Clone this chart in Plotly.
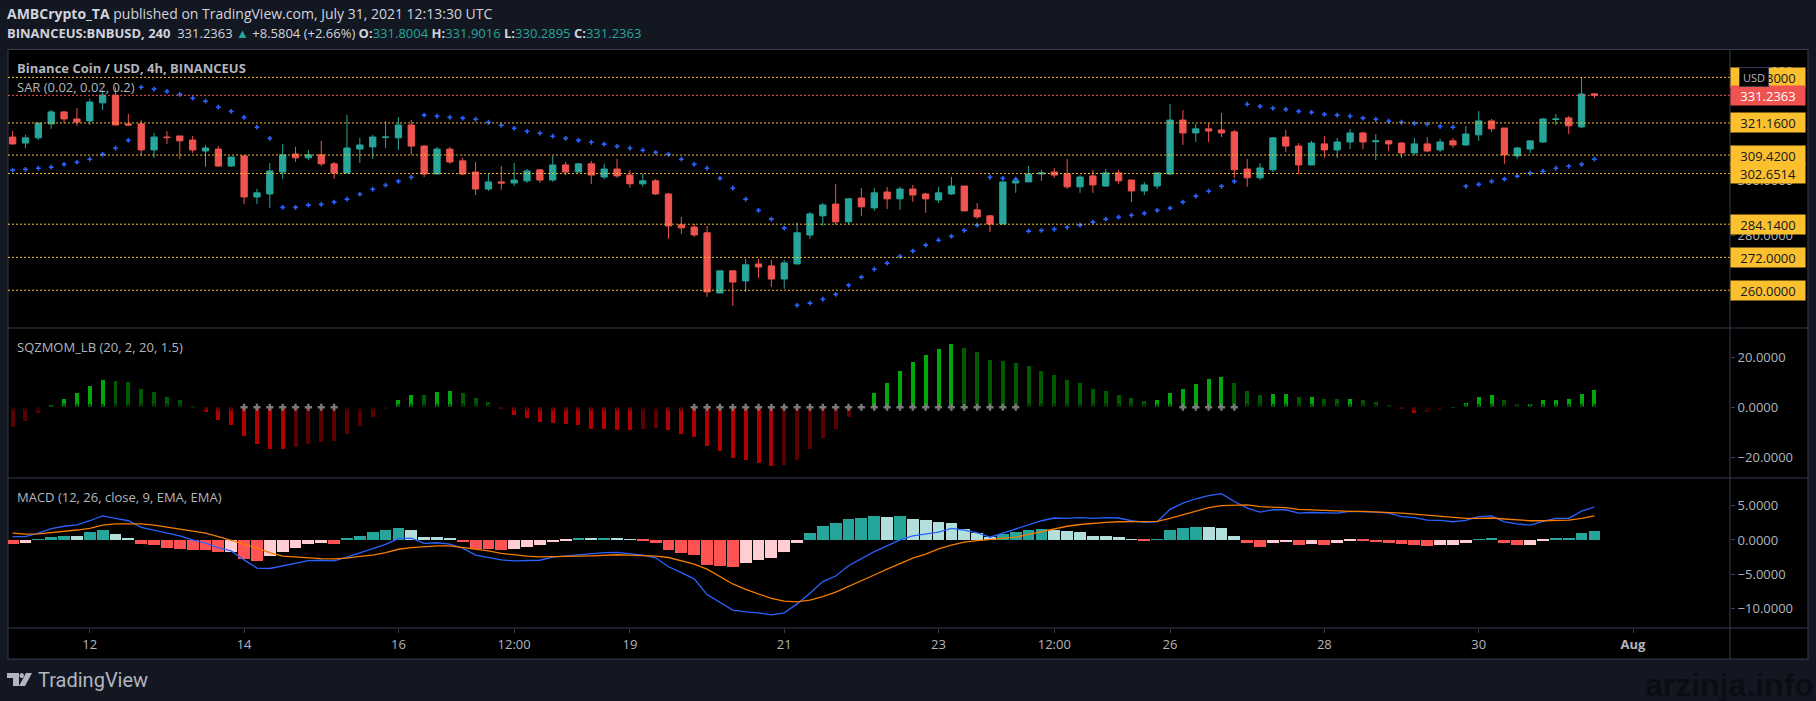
import pandas as pd
import plotly.graph_objects as go
from plotly.subplots import make_subplots

W, H = 1816, 701

dates = pd.date_range("2021-07-11 00:00", periods=124, freq="4h")

opens = [316.0, 313.8, 315.7, 320.8, 325.2, 322.6, 321.9, 328.5, 331.3, 320.8, 320.8, 311.3, 316.0, 316.4, 314.9, 310.9,
         311.6, 305.4, 309.1, 294.1, 295.2, 303.2, 309.8, 308.4, 309.5, 306.2, 302.9, 311.6, 312.4, 315.8, 315.7, 320.4,
         312.7, 302.5, 311.6, 307.3, 303.2, 297.0, 299.6, 299.2, 300.0, 304.0, 300.3, 305.8, 303.2, 306.2, 301.4, 304.3,
         302.1, 298.9, 300.0, 295.2, 283.9, 283.1, 281.0, 259.0, 267.1, 263.4, 269.6, 268.9, 264.1, 269.6, 280.2, 287.2,
         291.5, 285.0, 293.7, 290.1, 295.9, 293.4, 297.0, 295.2, 293.0, 295.2, 298.1, 289.4, 287.2, 284.2, 299.2, 299.6,
         302.5, 303.2, 302.5, 297.8, 301.8, 298.1, 302.9, 300.3, 296.3, 298.1, 302.5, 322.2, 317.5, 319.0, 318.6, 317.9,
         304.3, 301.1, 304.0, 316.0, 312.7, 305.8, 313.5, 311.3, 314.2, 317.5, 314.3, 314.6, 313.8, 310.2, 313.5, 311.3,
         314.6, 313.1, 316.8, 321.9, 319.3, 309.1, 311.6, 314.2, 322.4, 323.0, 319.7, 331.8004]
highs = [318.2, 316.8, 321.1, 325.9, 325.5, 326.6, 329.9, 333.2, 334.2, 324.4, 322.2, 317.5, 318.2, 316.4, 316.4, 313.1,
         312.7, 308.7, 309.1, 297.0, 306.5, 313.5, 312.4, 311.3, 314.6, 306.9, 324.1, 315.7, 316.8, 321.9, 323.3, 322.2,
         313.1, 312.4, 312.4, 308.4, 306.9, 302.9, 305.4, 306.5, 304.3, 304.3, 309.1, 306.9, 306.5, 307.3, 306.2, 308.0,
         304.0, 302.5, 300.7, 295.6, 286.8, 284.2, 283.5, 267.4, 267.4, 271.5, 271.5, 271.1, 271.1, 284.6, 288.6, 291.9,
         298.9, 293.7, 297.4, 297.4, 297.8, 297.8, 298.5, 295.6, 297.8, 301.4, 298.1, 291.9, 287.5, 299.6, 300.7, 305.4,
         304.0, 304.7, 308.0, 302.1, 304.0, 304.3, 304.0, 300.3, 299.6, 302.9, 328.1, 325.9, 320.8, 321.1, 324.8, 318.6,
         308.0, 306.5, 316.0, 318.6, 313.8, 314.6, 316.4, 315.7, 319.0, 317.9, 317.1, 314.9, 314.2, 315.7, 316.0, 315.3,
         315.7, 320.1, 325.5, 322.6, 319.3, 312.4, 314.6, 323.0, 324.4, 323.7, 337.6, 331.9016]
lows = [313.1, 312.0, 314.9, 319.0, 321.1, 320.1, 320.4, 325.9, 320.4, 320.1, 309.1, 308.4, 313.5, 308.0, 310.2, 305.1,
        305.1, 305.1, 291.5, 291.5, 290.1, 300.7, 306.9, 307.6, 305.4, 300.7, 302.9, 306.5, 308.0, 312.0, 311.3, 309.5,
        301.4, 302.5, 306.2, 302.1, 294.8, 296.3, 296.7, 298.1, 299.2, 299.2, 299.6, 302.1, 303.2, 298.9, 300.7, 301.1,
        297.4, 297.8, 294.8, 278.8, 280.6, 279.5, 257.6, 259.0, 254.3, 259.4, 264.5, 261.2, 260.5, 269.6, 278.8, 283.5,
        283.9, 284.2, 287.2, 289.0, 289.7, 289.4, 292.3, 288.3, 291.9, 294.8, 289.0, 286.1, 281.3, 284.2, 295.6, 299.6,
        300.0, 301.1, 297.0, 295.6, 295.6, 297.8, 298.9, 292.3, 294.8, 297.0, 302.1, 313.1, 314.2, 314.2, 316.0, 301.1,
        297.8, 300.3, 303.2, 310.5, 302.5, 305.8, 308.4, 308.4, 311.6, 311.6, 307.6, 310.9, 308.4, 309.5, 310.5, 310.5,
        312.0, 312.7, 314.6, 317.9, 306.2, 308.0, 310.2, 313.8, 320.4, 317.1, 319.3, 330.2895]
closes = [313.5, 315.7, 321.1, 325.2, 322.6, 321.5, 328.8, 331.4, 320.4, 320.4, 311.3, 316.0, 315.8, 314.6, 311.3, 312.0,
          305.4, 308.7, 294.1, 295.6, 303.6, 309.5, 308.4, 309.5, 306.2, 302.9, 312.0, 313.1, 316.0, 316.0, 320.4, 312.7,
          302.5, 311.6, 306.9, 302.5, 297.0, 299.6, 299.2, 300.3, 303.6, 300.3, 305.8, 303.2, 306.2, 302.1, 304.3, 301.8,
          298.9, 300.0, 295.2, 283.5, 282.8, 280.2, 259.4, 267.1, 263.0, 269.3, 268.5, 264.1, 270.0, 281.0, 287.9, 291.2,
          285.0, 293.4, 290.5, 295.6, 293.4, 297.0, 294.8, 293.4, 295.6, 298.1, 289.0, 286.8, 284.2, 299.6, 300.0, 302.5,
          302.9, 302.1, 297.8, 301.4, 298.5, 302.9, 300.0, 296.3, 298.5, 302.9, 322.2, 317.5, 319.0, 318.2, 317.5, 304.0,
          301.1, 304.7, 315.7, 312.7, 305.8, 313.8, 311.3, 314.2, 317.5, 314.2, 314.6, 313.5, 310.2, 313.5, 310.9, 314.2,
          313.1, 317.1, 321.9, 319.0, 309.5, 312.0, 314.6, 322.6, 322.6, 320.1, 331.7, 331.2363]

sar = [303.9, 304.2, 304.6, 305.0, 306.0, 306.8, 307.9, 309.7, 311.9, 314.8, 334.2, 333.5, 332.7, 331.6, 330.2, 329.1,
       326.9, 325.4, 323.2, 319.6, 315.5, 290.3, 290.3, 291.1, 291.4, 292.2, 293.3, 295.1, 296.9, 298.4, 299.8, 301.3,
       324.0, 323.6, 323.2, 322.9, 322.5, 321.4, 320.3, 319.2, 318.1, 317.4, 316.3, 315.5, 314.8, 314.1, 313.4, 312.6,
       311.9, 311.2, 310.4, 309.7, 307.9, 306.0, 304.6, 300.9, 297.3, 293.3, 289.2, 286.0, 282.7, 254.5, 255.3, 256.7,
       258.5, 261.8, 264.8, 267.7, 269.9, 272.4, 274.3, 276.5, 278.3, 279.7, 281.9, 283.8, 301.3, 300.9, 300.6, 281.6,
       281.9, 282.3, 283.0, 283.8, 284.9, 286.0, 286.7, 287.4, 288.1, 289.2, 290.0, 292.2, 294.4, 296.2, 298.0, 299.8,
       328.0, 327.2, 326.5, 326.1, 325.4, 325.0, 324.3, 324.0, 323.6, 322.9, 322.5, 321.8, 321.4, 321.0, 320.7, 319.9,
       319.6, 298.0, 298.7, 299.8, 300.6, 301.7, 302.8, 303.5, 304.6, 305.3, 306.0, 307.9]

# horizontal levels drawn by hand on the chart
level_prices = [337.8, 321.16, 309.42, 302.6514, 284.14, 272.0, 260.0]
level_labels = ["337.8000", "321.1600", "309.4200", "302.6514", "284.1400", "272.0000", "260.0000"]
last_price = 331.2363

sqz_prev_start = -9.0
sqz_mom = [-7.9, -5.5, -2.3, 0.9, 3.3, 5.7, 8.5, 10.9, 10.5, 10.1, 7.3, 6.1, 4.1, 2.9, 0.5, -1.9,
           -5.1, -7.1, -11.5, -14.7, -16.7, -16.8, -15.9, -14.7, -13.9, -13.5, -10.7, -7.5, -3.9, -0.5, 2.9, 4.9,
           4.85, 6.1, 6.5, 5.7, 3.7, 2.1, -0.4, -3.1, -4.3, -5.9, -6.3, -6.7, -7.1, -8.7, -8.75, -9.1,
           -9.15, -8.7, -8.3, -9.1, -10.7, -11.9, -15.5, -17.5, -20.3, -21.1, -22.3, -23.5, -23.1, -21.1, -16.7, -12.3,
           -8.7, -3.9, 0.2, 5.7, 9.7, 14.5, 18.1, 20.9, 23.3, 25.3, 23.7, 22.1, 18.9, 18.5, 17.7, 16.5,
           14.5, 12.9, 10.9, 9.7, 7.3, 6.5, 4.9, 3.7, 2.5, 2.9, 5.7, 7.3, 9.3, 11.3, 12.1, 9.7,
           6.5, 4.9, 5.3, 5.35, 4.1, 4.15, 3.3, 3.25, 3.35, 2.9, 2.1, 0.9, -0.8, -2.3, -1.9, -1.1,
           0.1, 1.7, 4.1, 4.9, 2.9, 1.3, 1.35, 2.9, 2.95, 3.3, 5.3, 6.9]
# bars where the squeeze is on, first and last bar of each run
squeeze_runs = [(18, 25), (53, 78), (91, 95)]

macd_hist = [-0.6, -0.5, 0.07, 0.5, 0.65, 0.62, 1.1, 1.4, 0.8, 0.36, -0.65, -0.8, -1.1, -1.25, -1.4, -1.5,
             -1.8, -1.78, -2.7, -3.0, -2.4, -1.7, -1.1, -0.65, -0.5, -0.52, 0.2, 0.65, 1.1, 1.4, 1.7, 1.4,
             0.5, 0.48, 0.2, -0.35, -1.25, -1.27, -1.4, -1.25, -0.95, -0.8, -0.35, -0.2, 0.2, 0.18, 0.35, 0.2,
             0.07, -0.2, -0.5, -1.4, -1.95, -2.25, -3.7, -3.85, -4.0, -3.4, -2.85, -2.55, -1.8, -0.5, 0.95, 2.1,
             2.4, 3.1, 3.15, 3.45, 3.4, 3.42, 3.1, 2.85, 2.55, 2.4, 1.65, 0.95, 0.5, 0.8, 1.1, 1.5,
             1.65, 1.5, 1.25, 1.1, 0.65, 0.63, 0.5, 0.07, -0.2, 0.07, 1.4, 1.8, 1.95, 1.93, 1.8, 0.65,
             -0.5, -0.95, -0.5, -0.35, -0.8, -0.65, -0.67, -0.5, -0.2, -0.22, -0.35, -0.37, -0.65, -0.8, -0.82, -0.8,
             -0.78, -0.5, 0.07, 0.2, -0.5, -0.8, -0.78, -0.2, 0.2, 0.22, 0.95, 1.25]
macd_line = [0.5, 0.5, 1.0, 1.65, 2.0, 2.2, 2.8, 3.5, 3.15, 2.8, 1.85, 1.4, 1.0, 0.6, 0.0, -0.45,
             -1.15, -1.6, -2.9, -4.1, -4.15, -3.75, -3.4, -3.0, -2.95, -3.05, -2.5, -1.9, -1.2, -0.65, 0.2, 0.25,
             -0.5, -0.4, -0.6, -1.2, -2.2, -2.55, -2.9, -3.05, -2.95, -2.95, -2.5, -2.35, -2.1, -2.05, -1.85, -1.8,
             -2.05, -2.2, -2.6, -3.9, -4.75, -5.65, -7.95, -9.1, -10.2, -10.45, -10.6, -10.9, -10.6, -9.3, -7.75, -6.05,
             -5.25, -3.75, -2.75, -1.7, -0.85, 0.0, 0.6, 0.85, 1.15, 1.7, 1.45, 1.05, 0.4, 1.0, 1.6, 2.2,
             2.8, 3.2, 3.15, 3.25, 3.15, 3.25, 3.2, 2.8, 2.55, 2.65, 4.45, 5.35, 6.0, 6.45, 6.75, 5.6,
             4.65, 4.05, 4.4, 4.4, 3.9, 4.0, 3.9, 3.9, 4.15, 4.15, 4.05, 3.9, 3.4, 3.25, 2.9, 2.85,
             2.65, 2.85, 3.4, 3.5, 2.65, 2.35, 2.15, 2.7, 3.15, 3.15, 4.2, 4.8]
macd_signal = [1.0, 0.85, 0.9, 1.05, 1.25, 1.45, 1.7, 2.15, 2.35, 2.4, 2.35, 2.15, 1.85, 1.6, 1.25, 1.0,
               0.5, 0.0, -0.6, -1.2, -1.85, -2.35, -2.5, -2.6, -2.7, -2.75, -2.65, -2.4, -2.2, -1.85, -1.35, -1.1,
               -0.95, -0.85, -0.85, -1.1, -1.3, -1.6, -1.95, -2.2, -2.35, -2.45, -2.45, -2.4, -2.35, -2.3, -2.2, -2.15,
               -2.2, -2.25, -2.35, -2.55, -3.0, -3.5, -4.25, -5.35, -6.4, -7.2, -7.85, -8.5, -8.9, -9.0, -8.75, -8.25,
               -7.6, -6.8, -5.95, -5.1, -4.25, -3.4, -2.65, -2.05, -1.3, -0.75, -0.3, -0.1, 0.05, 0.15, 0.4, 0.8,
               1.2, 1.7, 2.0, 2.25, 2.45, 2.55, 2.65, 2.7, 2.65, 2.7, 3.15, 3.65, 4.15, 4.7, 5.0, 5.1,
               5.1, 4.85, 4.75, 4.7, 4.45, 4.35, 4.25, 4.15, 4.15, 4.15, 4.1, 4.05, 3.9, 3.75, 3.6, 3.5,
               3.25, 3.15, 3.15, 3.2, 3.05, 2.9, 2.8, 2.8, 2.85, 2.9, 3.15, 3.5]

time_ticks = ["2021-07-12", "2021-07-14", "2021-07-16", "2021-07-17 12:00", "2021-07-19", "2021-07-21",
              "2021-07-23", "2021-07-24 12:00", "2021-07-26", "2021-07-28", "2021-07-30", "2021-08-01"]
time_labels = ["12", "14", "16", "12:00", "19", "21", "23", "12:00", "26", "28", "30", "<b>Aug</b>"]
sqz_ticks = [-20, 0, 20]
macd_ticks = [-10, -5, 0, 5]
price_ticks = [280, 300, 320, 340]

BG = "#131722"
BORDER = "#363C4E"
TEXT = "#B2B5BE"
UP = "#26A69A"
DOWN = "#EF5350"
YELLOW = "#FBC02D"
FONT = "Open Sans"
BAR_MS = 4 * 3600 * 1000


def px_x(x):
    return x / W


def px_y(y):
    return 1 - y / H


def sqz_color(i):
    prev = sqz_mom[i - 1] if i else sqz_prev_start
    val = sqz_mom[i]
    if val > 0:
        return "#00A80B" if val > prev else "#005A00"
    return "#B00000" if val < prev else "#5A0000"


def hist_color(i):
    prev = macd_hist[i - 1] if i else 0
    val = macd_hist[i]
    if val >= 0:
        return UP if val > prev else "#B2DFDB"
    return "#FF5252" if val < prev else "#FFCDD2"


squeeze_on = [any(a <= i <= b for a, b in squeeze_runs) for i in range(len(dates))]

fig = make_subplots(rows=3, cols=1, shared_xaxes=True, vertical_spacing=0)

fig.add_trace(go.Candlestick(
    x=dates, open=opens, high=highs, low=lows, close=closes,
    increasing=dict(line=dict(color=UP, width=1), fillcolor=UP),
    decreasing=dict(line=dict(color=DOWN, width=1), fillcolor=DOWN),
    whiskerwidth=0, showlegend=False), row=1, col=1)
fig.add_trace(go.Scatter(
    x=dates, y=sar, mode="markers",
    marker=dict(symbol="cross", size=4, color="#2962FF", line=dict(width=0)),
    showlegend=False), row=1, col=1)

fig.add_trace(go.Bar(
    x=dates, y=sqz_mom, width=0.31 * BAR_MS,
    marker=dict(color=[sqz_color(i) for i in range(len(dates))], line=dict(width=0)),
    showlegend=False), row=2, col=1)
fig.add_trace(go.Scatter(
    x=dates, y=[0] * len(dates), mode="markers",
    marker=dict(symbol="cross", size=6, line=dict(width=0),
                color=["rgba(128,128,128,0.95)" if on else "rgba(0,0,0,0.6)" for on in squeeze_on]),
    showlegend=False), row=2, col=1)

fig.add_trace(go.Bar(
    x=dates, y=macd_hist, width=0.92 * BAR_MS,
    marker=dict(color=[hist_color(i) for i in range(len(dates))], line=dict(width=0)),
    showlegend=False), row=3, col=1)
fig.add_trace(go.Scatter(
    x=dates, y=macd_line, mode="lines", line=dict(color="#2962FF", width=1.3), showlegend=False), row=3, col=1)
fig.add_trace(go.Scatter(
    x=dates, y=macd_signal, mode="lines", line=dict(color="#F57C00", width=1.3), showlegend=False), row=3, col=1)

# dotted levels
for price in level_prices:
    fig.add_shape(type="line", xref="x domain", yref="y", x0=0, x1=1, y0=price, y1=price,
                  line=dict(color=YELLOW, width=1, dash="2px,2px"), layer="above")
fig.add_shape(type="line", xref="x domain", yref="y", x0=0, x1=1, y0=last_price, y1=last_price,
              line=dict(color=DOWN, width=1, dash="2px,2px"), layer="above")

# chart frame, right scale column and time strip
fig.add_shape(type="rect", xref="paper", yref="paper", x0=px_x(8), x1=px_x(1808), y0=px_y(659), y1=px_y(49.5),
              fillcolor="#000000", line=dict(color=BORDER, width=1), layer="below")
fig.add_shape(type="line", xref="paper", yref="paper", x0=px_x(1730), x1=px_x(1730), y0=px_y(659), y1=px_y(49.5),
              line=dict(color=BORDER, width=1))
for yy in [328, 478, 628]:
    fig.add_shape(type="line", xref="paper", yref="paper", x0=px_x(8), x1=px_x(1808), y0=px_y(yy), y1=px_y(yy),
                  line=dict(color=BORDER, width=1))

# TradingView logo
fig.add_shape(type="path", xref="paper", yref="paper", fillcolor=TEXT, line=dict(width=0),
              path="M {} {} L {} {} L {} {} L {} {} L {} {} L {} {} Z".format(
                  px_x(7), px_y(673), px_x(19), px_y(673), px_x(19), px_y(686), px_x(13), px_y(686),
                  px_x(13), px_y(678), px_x(7), px_y(678)))
fig.add_shape(type="circle", xref="paper", yref="paper", fillcolor=TEXT, line=dict(width=0),
              x0=px_x(19.5), x1=px_x(24), y0=px_y(678), y1=px_y(673))
fig.add_shape(type="path", xref="paper", yref="paper", fillcolor=TEXT, line=dict(width=0),
              path="M {} {} L {} {} L {} {} L {} {} Z".format(
                  px_x(26), px_y(673), px_x(32), px_y(673), px_x(25), px_y(686), px_x(19), px_y(686)))


def label(x, y, text, size=13, color=TEXT, family=FONT, anchor="left"):
    fig.add_annotation(xref="paper", yref="paper", x=px_x(x), y=px_y(y), text=text, showarrow=False,
                       xanchor=anchor, yanchor="middle", font=dict(size=size, color=color, family=family),
                       borderpad=0, borderwidth=0)


green_num = "<span style='color:#26A69A'>{}</span>"
label(7, 14, "<b>AMBCrypto_TA</b> published on TradingView.com, July 31, 2021 12:13:30 UTC", size=14, color="#D1D4DC")
label(7, 33, "<b>BINANCEUS:BNBUSD, 240</b>  331.2363 " + green_num.format("▲") + " +8.5804 (+2.66%) "
      + "<b>O:</b>" + green_num.format("331.8004") + " <b>H:</b>" + green_num.format("331.9016")
      + " <b>L:</b>" + green_num.format("330.2895") + " <b>C:</b>" + green_num.format("331.2363"),
      size=13, color="#D1D4DC")
label(17, 68, "<b>Binance Coin / USD, 4h, BINANCEUS</b>", size=13)
label(17, 87, "SAR (0.02, 0.02, 0.2)", size=13)
label(17, 347, "SQZMOM_LB (20, 2, 20, 1.5)", size=13)
label(17, 497, "MACD (12, 26, close, 9, EMA, EMA)", size=13)
label(38, 680, "TradingView", size=20, color=TEXT, family="Roboto")
label(1814, 685, "<b>arzinja.info</b>", size=32, color="#0A0D13", family="Liberation Sans", anchor="right")

for price, text in zip(level_prices, level_labels):
    fig.add_annotation(xref="paper", yref="y", x=px_x(1730), y=price, text=text, showarrow=False, xanchor="left",
                       width=74, height=19, bgcolor=YELLOW, borderpad=0, align="center",
                       font=dict(size=13, color=BG, family=FONT))
fig.add_annotation(xref="paper", yref="y", x=px_x(1730), y=last_price, text=f"{last_price:.4f}", showarrow=False,
                   xanchor="left", width=74, height=19, bgcolor=DOWN, borderpad=0, align="center",
                   font=dict(size=13, color="#FFFFFF", family=FONT))
fig.add_annotation(xref="paper", yref="paper", x=px_x(1769), y=px_y(67), text="USD", showarrow=False, width=26, height=16,
                   bgcolor="#000000", bordercolor=BORDER, borderwidth=1, borderpad=1,
                   font=dict(size=11, color=TEXT, family=FONT))

axis_common = dict(showgrid=False, zeroline=False, showline=False)
fig.update_xaxes(**axis_common, type="date", rangeslider_visible=False, domain=[px_x(8), px_x(1730)],
                 range=["2021-07-10 22:34", "2021-08-02 06:10"],
                 tickmode="array", tickvals=time_ticks, ticktext=time_labels,
                 ticks="outside", ticklen=4, tickcolor=BORDER, tickfont=dict(size=13, color=TEXT, family=FONT))
fig.update_xaxes(showticklabels=False, row=1, col=1)
fig.update_xaxes(showticklabels=False, ticks="", row=2, col=1)
fig.update_xaxes(ticks="", row=1, col=1)

y_common = dict(**axis_common, side="right", ticks="outside", ticklen=4, tickcolor=BORDER, tickformat=".4f",
                tickmode="array", tickfont=dict(size=13, color=TEXT, family=FONT))
fig.update_yaxes(**y_common, domain=[px_y(328), px_y(49.5)], range=[246.2, 348.0], tickvals=price_ticks, row=1, col=1)
fig.update_yaxes(**y_common, domain=[px_y(478), px_y(328)], range=[-28.3, 31.7], tickvals=sqz_ticks, row=2, col=1)
fig.update_yaxes(**y_common, domain=[px_y(628), px_y(478)], range=[-12.81, 9.02], tickvals=macd_ticks, row=3, col=1)

fig.update_layout(
    width=W, height=H, margin=dict(l=0, r=0, t=0, b=0), autosize=False,
    paper_bgcolor=BG, plot_bgcolor="#000000", bargap=0, barmode="overlay",
    font=dict(family=FONT, color=TEXT), showlegend=False, hovermode=False,
)

fig.write_html("out.html", config=dict(displayModeBar=False),
               post_script="document.body.style.margin='0';document.body.style.overflow='hidden';")
